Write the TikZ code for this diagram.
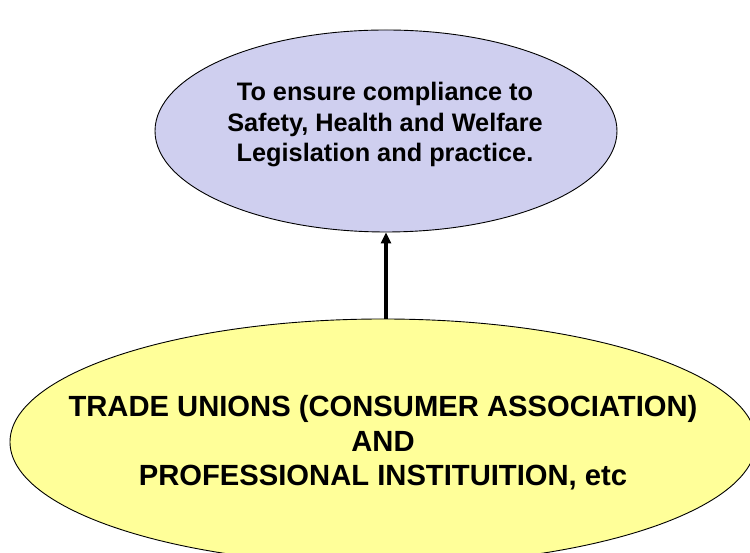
\documentclass[tikz,border=0pt]{standalone}
\usepackage{fontspec}
\setmainfont{Liberation Sans}
\usetikzlibrary{shapes.geometric,arrows.meta}
\definecolor{lav}{RGB}{207,207,239}
\definecolor{lyel}{RGB}{255,255,153}
\tikzset{
  bubble/.style={ellipse, draw=black, line width=0.9pt, inner sep=0pt, align=center, font=\bfseries},
  conn/.style={line width=3.5pt, -{Triangle[length=11pt,width=10pt]}}
}
\begin{document}
\begin{tikzpicture}[x=1pt,y=1pt]
\useasboundingbox (0,0) rectangle (750,553);
\begin{scope}
\clip (0,0) rectangle (750,553);
\node[bubble, fill=lav, minimum width=462pt, minimum height=202pt] (upper) at (386,422) {};
\node[font=\bfseries\fontsize{25.3}{30.5}\selectfont, align=center] (uppertext) at (385,428)
  {To ensure compliance to\\Safety, Health and Welfare\\Legislation and practice.};
\node[bubble, fill=lyel, minimum width=746pt, minimum height=246pt] (lower) at (383,111) {};
\node[font=\bfseries\fontsize{29.2}{34.5}\selectfont, align=center] (lowertext) at (383,110)
  {TRADE UNIONS (CONSUMER ASSOCIATION)\\AND\\PROFESSIONAL INSTITUITION, etc};
\draw[conn] (upper.south |- lower.north) -- (upper.south);
\end{scope}
\end{tikzpicture}
\end{document}
